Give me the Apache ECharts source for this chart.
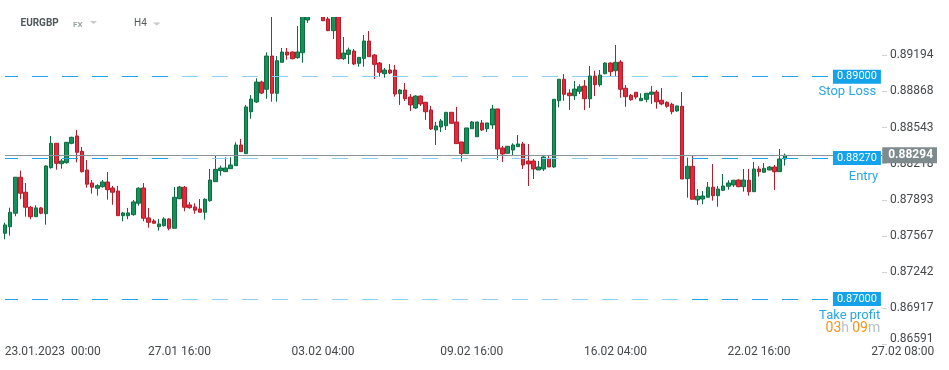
<!DOCTYPE html>
<html><head><meta charset="utf-8">
<script src="https://cdn.jsdelivr.net/npm/echarts@6/dist/echarts.min.js"></script>
<style>html,body{margin:0;padding:0;background:#fff}#c{width:949px;height:370px}</style>
</head><body><div id="c"></div>
<script>
// ---- data (EURGBP, H4) ----
const symbolName = 'EURGBP';
const marketName = 'FX';
const timeframe = 'H4';
const opens = [0.87592,0.87651,0.87772,0.88096,0.87961,0.87826,0.87741,0.87820,0.87768,0.88182,0.88401,0.88218,0.88227,0.88401,0.88467,0.88329,0.88161,0.88044,0.87997,0.88011,0.88053,0.87999,0.87972,0.87750,0.87750,0.87759,0.87862,0.87999,0.87730,0.87703,0.87651,0.87660,0.87721,0.87637,0.87903,0.88006,0.87847,0.87829,0.87811,0.87781,0.87885,0.88056,0.88155,0.88146,0.88173,0.88200,0.88386,0.88308,0.88685,0.88773,0.88952,0.88887,0.89186,0.88851,0.89129,0.89222,0.89222,0.89171,0.89216,0.89510,0.89580,0.89640,0.89590,0.89519,0.89414,0.89550,0.89162,0.89201,0.89231,0.89120,0.89165,0.89321,0.89195,0.89123,0.89027,0.89060,0.89060,0.88847,0.88880,0.88817,0.88719,0.88826,0.88770,0.88701,0.88521,0.88548,0.88559,0.88680,0.88593,0.88413,0.88308,0.88532,0.88460,0.88584,0.88532,0.88566,0.88710,0.88359,0.88311,0.88341,0.88371,0.88395,0.88242,0.88242,0.88161,0.88170,0.88265,0.88188,0.88784,0.88977,0.88853,0.88829,0.88869,0.88916,0.88802,0.89006,0.88928,0.89027,0.89123,0.89054,0.89132,0.88896,0.88833,0.88860,0.88784,0.88797,0.88842,0.88862,0.88788,0.88770,0.88752,0.88692,0.88734,0.88083,0.88194,0.87892,0.87900,0.87916,0.88006,0.87930,0.87979,0.88015,0.88026,0.88071,0.88011,0.88069,0.87966,0.88170,0.88141,0.88161,0.88188,0.88146,0.88260];
const closes = [0.87667,0.87781,0.88096,0.87952,0.87826,0.87741,0.87820,0.87772,0.88197,0.88401,0.88221,0.88242,0.88410,0.88455,0.88320,0.88146,0.88033,0.88006,0.88020,0.88053,0.87984,0.87961,0.87750,0.87775,0.87775,0.87874,0.87997,0.87727,0.87691,0.87682,0.87676,0.87721,0.87637,0.87916,0.88008,0.87826,0.87822,0.87799,0.87781,0.87898,0.88071,0.88167,0.88179,0.88179,0.88206,0.88386,0.88326,0.88728,0.88799,0.88952,0.88853,0.89186,0.88851,0.89144,0.89222,0.89195,0.89162,0.89222,0.89560,0.89580,0.89640,0.89600,0.89503,0.89414,0.89550,0.89162,0.89213,0.89240,0.89114,0.89174,0.89321,0.89180,0.89111,0.89040,0.89060,0.89033,0.88844,0.88880,0.88802,0.88746,0.88826,0.88755,0.88685,0.88530,0.88557,0.88602,0.88680,0.88581,0.88398,0.88308,0.88539,0.88593,0.88593,0.88521,0.88584,0.88710,0.88350,0.88305,0.88374,0.88386,0.88395,0.88206,0.88215,0.88170,0.88188,0.88278,0.88188,0.88797,0.88977,0.88842,0.88829,0.88889,0.88910,0.88802,0.89006,0.88928,0.89015,0.89123,0.89045,0.89129,0.88887,0.88820,0.88793,0.88817,0.88806,0.88851,0.88862,0.88775,0.88755,0.88734,0.88685,0.88737,0.88080,0.88194,0.87898,0.87925,0.87927,0.88006,0.87930,0.87990,0.88017,0.88044,0.88069,0.88011,0.88071,0.87966,0.88170,0.88146,0.88176,0.88188,0.88146,0.88260,0.88294];
const lows = [0.87538,0.87571,0.87745,0.87898,0.87741,0.87718,0.87741,0.87763,0.87669,0.88173,0.88164,0.88173,0.88218,0.88392,0.88230,0.88137,0.88002,0.87948,0.87930,0.88002,0.87894,0.87849,0.87750,0.87700,0.87718,0.87750,0.87840,0.87700,0.87642,0.87682,0.87616,0.87651,0.87619,0.87637,0.87898,0.87790,0.87813,0.87768,0.87781,0.87714,0.87876,0.88056,0.88110,0.88146,0.88173,0.88200,0.88326,0.88308,0.88622,0.88764,0.88844,0.88802,0.88775,0.88775,0.89129,0.89153,0.89156,0.89162,0.89126,0.89485,0.89550,0.89560,0.89503,0.89410,0.89339,0.89156,0.89150,0.89114,0.89105,0.89090,0.89090,0.89180,0.88979,0.89000,0.88991,0.89024,0.88820,0.88746,0.88782,0.88692,0.88710,0.88737,0.88611,0.88521,0.88386,0.88503,0.88521,0.88577,0.88398,0.88236,0.88308,0.88532,0.88460,0.88512,0.88503,0.88530,0.88251,0.88233,0.88311,0.88296,0.88371,0.88170,0.88017,0.88080,0.88161,0.88152,0.88188,0.88180,0.88725,0.88784,0.88701,0.88791,0.88844,0.88701,0.88719,0.88826,0.88910,0.89022,0.89006,0.89006,0.88811,0.88730,0.88784,0.88797,0.88784,0.88770,0.88755,0.88712,0.88743,0.88721,0.88662,0.88685,0.88080,0.87912,0.87898,0.87847,0.87853,0.87916,0.87885,0.87831,0.87972,0.87984,0.88008,0.88006,0.87966,0.87930,0.87966,0.88101,0.88134,0.88159,0.87981,0.88146,0.88200];
const highs = [0.87687,0.87822,0.88098,0.88155,0.88044,0.87838,0.87844,0.87829,0.88203,0.88467,0.88401,0.88260,0.88413,0.88460,0.88521,0.88368,0.88251,0.88071,0.88033,0.88071,0.88143,0.88017,0.88017,0.87784,0.87820,0.87892,0.88006,0.88044,0.87820,0.87721,0.87721,0.87736,0.87727,0.88008,0.88017,0.88017,0.87871,0.87862,0.87900,0.87907,0.88170,0.88287,0.88200,0.88275,0.88275,0.88410,0.88440,0.88746,0.88835,0.88986,0.88964,0.89219,0.89580,0.89186,0.89258,0.89258,0.89228,0.89456,0.89600,0.89610,0.89680,0.89670,0.89610,0.89550,0.89570,0.89570,0.89357,0.89261,0.89249,0.89174,0.89375,0.89411,0.89204,0.89132,0.89078,0.89114,0.89105,0.88889,0.88943,0.88844,0.88833,0.88833,0.88773,0.88737,0.88593,0.88620,0.88680,0.88680,0.88728,0.88413,0.88539,0.88602,0.88593,0.88611,0.88584,0.88746,0.88710,0.88377,0.88377,0.88401,0.88476,0.88413,0.88395,0.88260,0.88242,0.88287,0.88287,0.88797,0.88979,0.89024,0.88887,0.88961,0.88932,0.88970,0.89096,0.89054,0.89060,0.89129,0.89129,0.89285,0.89150,0.88925,0.88844,0.88862,0.88851,0.88851,0.88916,0.88880,0.88898,0.88779,0.88766,0.88739,0.88862,0.88272,0.88287,0.87988,0.87972,0.88053,0.88215,0.88017,0.88125,0.88069,0.88069,0.88078,0.88170,0.88170,0.88233,0.88194,0.88224,0.88197,0.88206,0.88350,0.88308];
const slotCount = 184;               // candle slots on the time axis (incl. future)
const xTickLabels = ['23.01.2023  00:00','27.01 16:00','03.02 04:00','09.02 16:00','16.02 04:00','22.02 16:00','27.02 08:00'];
const xTickIndex  = [6, 34, 62, 91, 119, 147, 175];
const yTicks = [0.86591,0.86917,0.87242,0.87567,0.87893,0.88218,0.88543,0.88868,0.89194];
const yMin = 0.865872, yMax = 0.895369;
const stopLoss = 0.89000, entry = 0.88270, takeProfit = 0.87000;
const currentPrice = 0.88294;
const countdown = ['03','09'];

// ---- build ----
const categories = Array.from({length: slotCount}, (_, i) => String(i));
const candles = opens.map((o, i) => [o, closes[i], lows[i], highs[i]]);
const lineEndIdx = 161, nameEndIdx = 171, priceEndIdx = 171;

const dashGrad = new echarts.graphic.LinearGradient(0, 0, 1, 0, [
  {offset: 0, color: '#1ea3ec'}, {offset: 0.209, color: '#1ea3ec'},
  {offset: 0.21, color: '#8ccff5'}, {offset: 0.816, color: '#8ccff5'},
  {offset: 0.817, color: '#1ea3ec'}, {offset: 1, color: '#1ea3ec'}
]);
const boxLabel = (v) => ({
  show: true, position: 'end', distance: 2, formatter: v.toFixed(5),
  backgroundColor: '#14a3ea', color: '#fff', fontSize: 11, fontFamily: 'Roboto',
  padding: [2, 4, 1, 4]
});
function levelLine(v) {
  return [{coord: [0, v]}, {coord: [lineEndIdx, v],
    lineStyle: {type: [16, 14], dashOffset: 3, width: 1.2, color: dashGrad},
    label: boxLabel(v)}];
}
function nameLine(v, text, dx, dy, rich) {
  return [{coord: [0, v]}, {coord: [nameEndIdx, v],
    lineStyle: {color: 'rgba(255,255,255,0)', width: 1, opacity: 1},
    label: {show: true, position: 'insideEndBottom', distance: [dx, dy], formatter: text,
      color: '#2aa6e2', fontSize: 13, fontFamily: 'Roboto', lineHeight: 13, opacity: 1, rich: rich || {}}}];
}

const chart = echarts.init(document.getElementById('c'), null, {renderer: 'canvas'});
chart.setOption({
  animation: false,
  backgroundColor: '#ffffff',
  grid: {left: 2.435, right: 2.645, top: 17, bottom: 25, containLabel: false},
  xAxis: {
    type: 'category', data: categories, boundaryGap: true,
    axisLine: {show: false}, axisTick: {show: false}, splitLine: {show: false},
    axisLabel: {
      interval: 0, margin: 1, color: '#45494c', fontSize: 12, fontFamily: 'Roboto',
      formatter: (val, idx) => {
        const k = xTickIndex.indexOf(idx);
        if (k < 0) return '';
        return k === 0 ? '{first|' + xTickLabels[k] + '}' : xTickLabels[k];
      },
      rich: {first: {padding: [0, 0, 0, 34], fontSize: 12, fontFamily: 'Roboto', color: '#45494c'}}
    }
  },
  yAxis: {
    type: 'value', position: 'right', offset: -64.4, min: yMin, max: yMax,
    splitLine: {show: false}, axisLine: {show: false},
    axisTick: {show: true, length: 5, customValues: yTicks, lineStyle: {color: '#cfd3d6'}},
    axisLabel: {
      customValues: yTicks, margin: 8, color: '#45494c', fontSize: 12, fontFamily: 'Roboto',
      formatter: (v) => {
        const s = v.toFixed(5);
        return Math.abs(v - yTicks[0]) < 1e-7 ? '{lo|' + s + '}' : s;
      },
      rich: {lo: {padding: [0, 0, 11, 0], fontSize: 12, fontFamily: 'Roboto', color: '#45494c'}}
    }
  },
  series: [{
    type: 'candlestick', data: candles, barWidth: 4, clip: true,
    itemStyle: {color: '#14925a', borderColor: '#0c6d41', color0: '#e5283a', borderColor0: '#b31c2b', borderWidth: 1},
    markLine: {
      silent: true, symbol: 'none', precision: 5,
      data: [
        levelLine(stopLoss), levelLine(entry), levelLine(takeProfit),
        [{coord: [0, currentPrice]}, {coord: [priceEndIdx, currentPrice],
          lineStyle: {type: 'solid', color: '#8b9599', width: 1},
          label: {show: true, position: 'end', distance: 0, formatter: currentPrice.toFixed(5),
            backgroundColor: '#7f8a8e', color: '#fff', fontSize: 12, fontWeight: 'bold',
            fontFamily: 'Roboto', padding: [2, 4, 2, 6]}}],
        nameLine(stopLoss, 'Stop Loss', 6, 9),
        nameLine(entry, 'Entry', 4, 12),
        nameLine(takeProfit, 'Take profit\n{o|' + countdown[0] + '}{g|h} {o|' + countdown[1] + '}{g|m}', 2, 10,
          {o: {color: '#f7941d', fontSize: 14, fontFamily: 'Roboto', lineHeight: 12},
           g: {color: '#b9c0c4', fontSize: 14, fontFamily: 'Roboto', lineHeight: 12}})
      ]
    }
  }],
  graphic: [
    // mask the part of the candles that runs above the plot's top edge
    {type: 'rect', z: 50, shape: {x: 0, y: 0, width: 880, height: 17}, style: {fill: '#ffffff'}},
    {type: 'text', z: 51, left: 20.5, top: 18.5, style: {text: symbolName, font: 'bold 10px Roboto', fill: '#4f575c'}},
    {type: 'text', z: 51, left: 73, top: 20.5, style: {text: marketName, font: 'bold 8px Roboto', fill: '#9aa3a8'}},
    {type: 'polygon', z: 51, shape: {points: [[90, 21], [97, 21], [93.5, 24]]}, style: {fill: '#c5c9cc'}},
    {type: 'text', z: 51, left: 134, top: 18.5, style: {text: timeframe, font: '10px Roboto', fill: '#55595c'}},
    {type: 'polygon', z: 51, shape: {points: [[153, 22.5], [160.5, 22.5], [156.75, 25.5]]}, style: {fill: '#c5c9cc'}}
  ]
});
</script></body></html>
